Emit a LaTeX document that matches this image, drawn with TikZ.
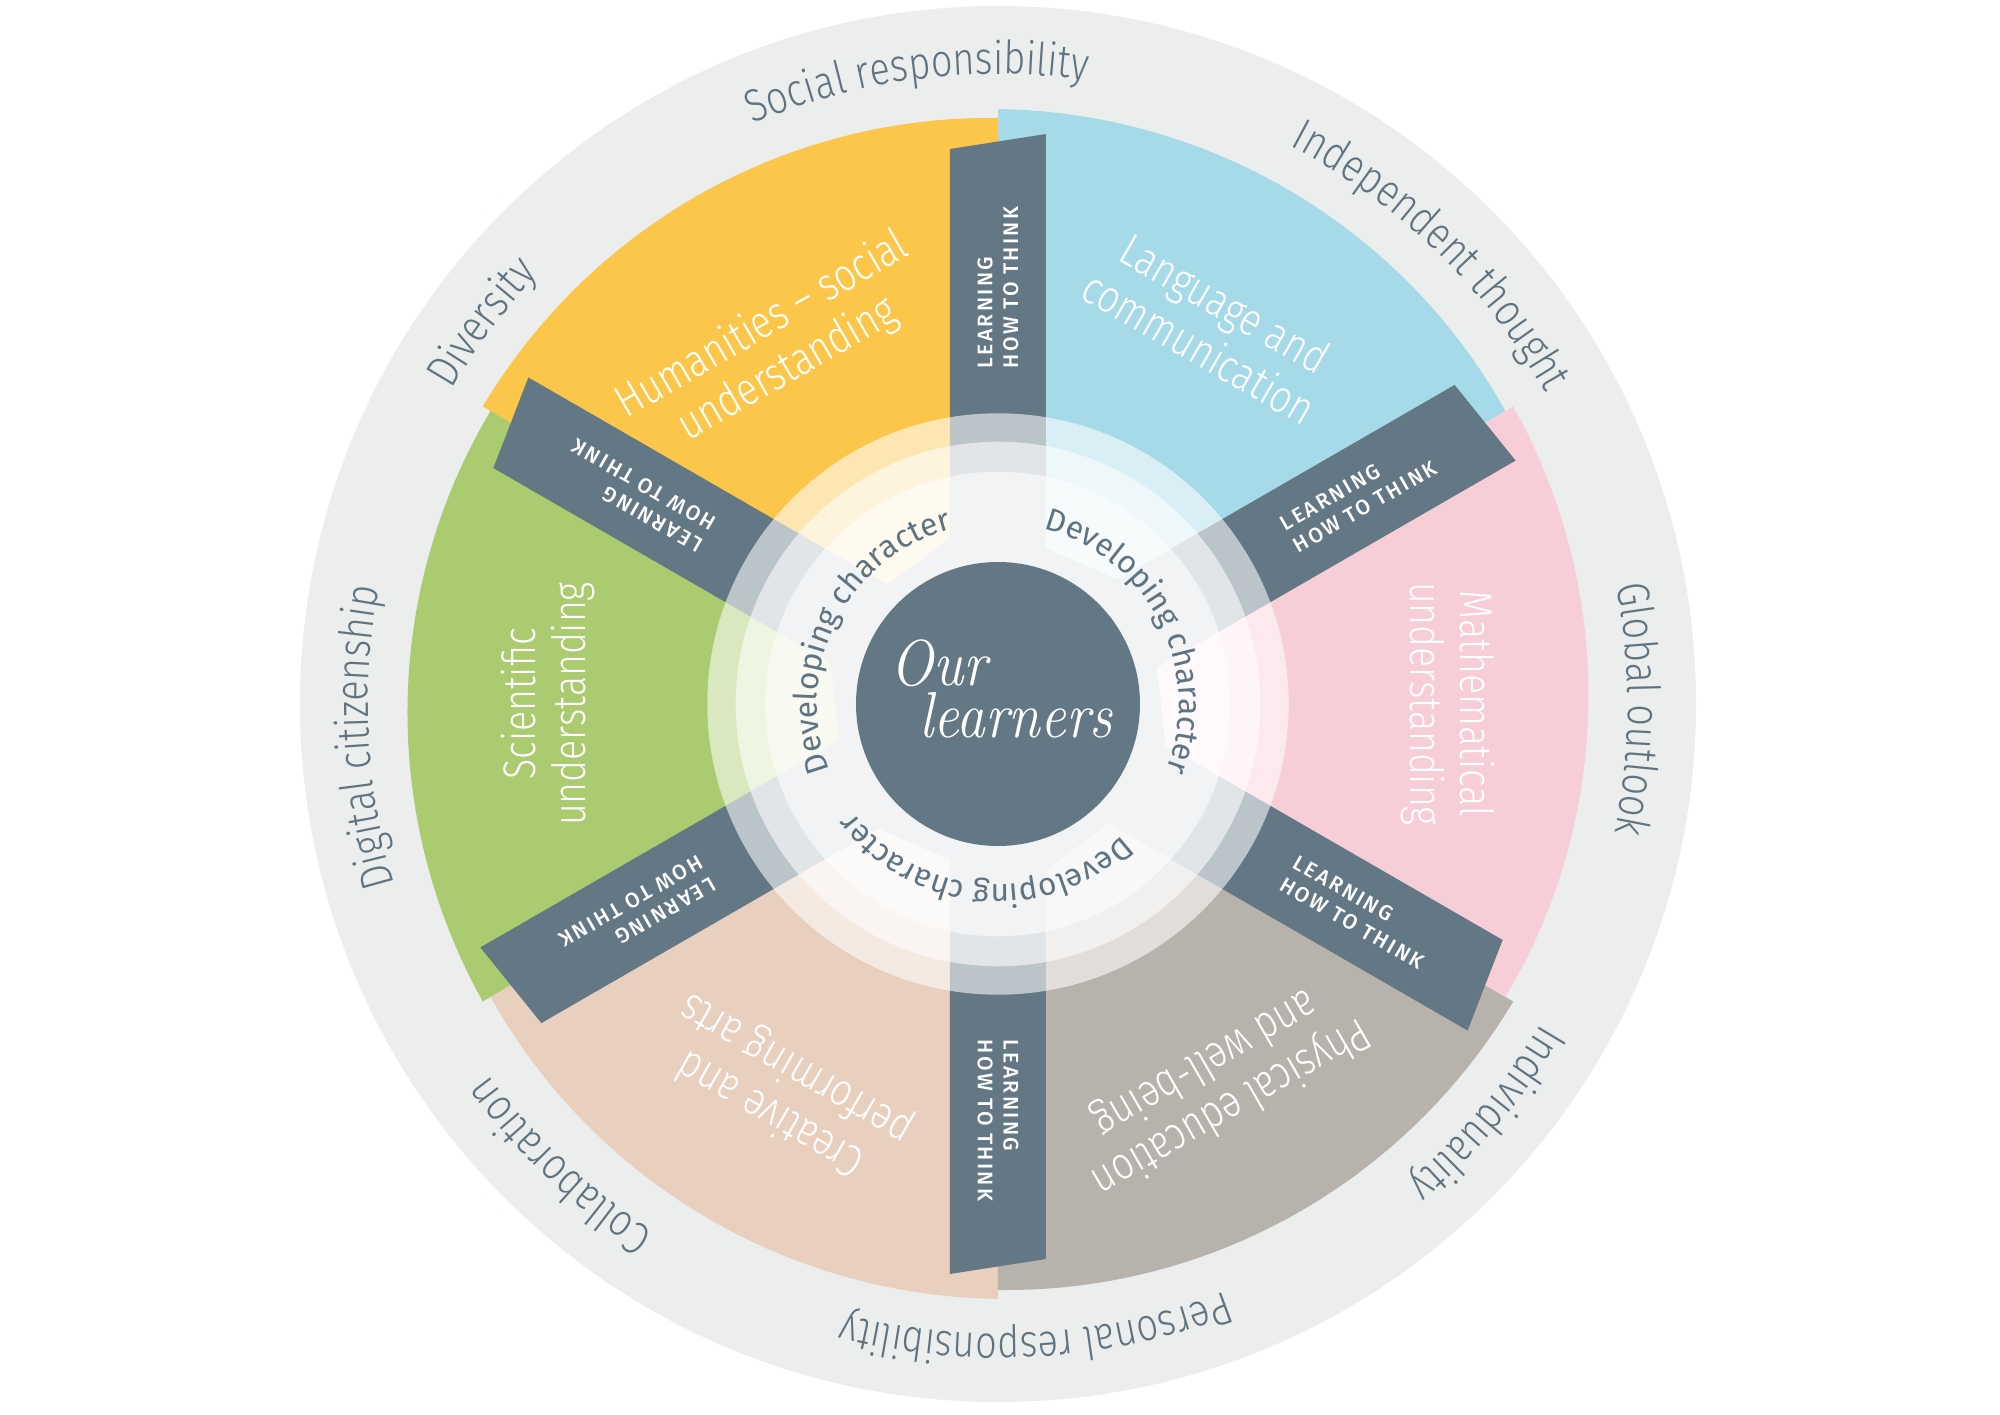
\documentclass[tikz,border=0pt]{standalone}
\usepackage{fontspec}
\usetikzlibrary{decorations.text}
\newfontfamily\outerfont{Fira Sans Light}[FakeStretch=0.83]
\newfontfamily\secfont{Fira Sans Light}[FakeStretch=0.82]
\newfontfamily\devfont{Fira Sans}
\newfontfamily\bandfont{Fira Sans Medium}[LetterSpace=11]
\definecolor{slate}{HTML}{637884}
\definecolor{ringgray}{HTML}{ECEDED}
\definecolor{labelc}{HTML}{5F7480}
\definecolor{secblue}{HTML}{A7DAE8}
\definecolor{secyellow}{HTML}{FCC64B}
\definecolor{secgreen}{HTML}{AACB6F}
\definecolor{secpeach}{HTML}{E8CFBE}
\definecolor{sectaupe}{HTML}{B8B2AC}
\definecolor{secpink}{HTML}{F7CDD8}
\tikzset{
  seclabel/.style={font=\secfont\fontsize{13}{14.5}\selectfont, text=white, align=center, inner sep=0pt},
  bandlabel/.style={font=\bandfont\fontsize{6}{7.3}\selectfont, text=white, align=left, anchor=west, inner sep=0pt},
  whitering/.style={fill=white, fill opacity=0.57},
}
\newcommand\outerlabel[2]{%
  \path[decorate, decoration={text along path, text align=center,
     text={|\outerfont\fontsize{13}{15}\selectfont\color{labelc}|#2}}]
     ({#1+40}:6.30) arc[start angle={#1+40}, end angle={#1-40}, radius=6.30];}
\newcommand\devlabel[1]{%
  \path[decorate, decoration={text along path, text align=center,
     text={|\devfont\fontsize{9}{11}\selectfont\color{labelc}|Developing character}}]
     ({#1+75}:1.81) arc[start angle={#1+75}, end angle={#1-75}, radius=1.81];}
\begin{document}
\begin{tikzpicture}
\useasboundingbox (-9.98,-7.10) rectangle (10.02,7.04);
\fill[white] (-9.98,-7.10) rectangle (10.02,7.04);
% outer ring
\fill[ringgray] (0,0) circle (6.98);
% hub
\fill[slate] (0,0) circle (2.2);
% sectors
\foreach \a/\c in {30/secblue, 90/secyellow, 150/secgreen, 210/secpeach, 270/sectaupe, 330/secpink}{
  \fill[\c, rotate=\a] (0:2.017) -- plot[domain=0:60, samples=40, variable=\t] ({\t}:{5.86+0.0015*\t}) -- (60:1.766) -- cycle;
}
% bands
\foreach \a in {30,90,150,210,270,330}{
  \fill[slate, rotate=\a] (0,-0.48) -- (5.70,-0.48) -- (5.55,0.48) -- (0,0.48) -- cycle;
}
% translucent rings
\foreach \r in {2.907,2.623,2.323}{
  \fill[whitering] (0,0) circle (\r);
}
% centre
\fill[slate] (0,0) circle (1.42);
\node[font=\fontsize{18.5}{20}\selectfont\itshape, text=white, anchor=base, inner sep=0pt] (our) at (-0.59,0.19) {\scalebox{0.88}[1]{Our}};
\node[font=\fontsize{18.5}{20}\selectfont\itshape, text=white, anchor=base, inner sep=0pt] (learners) at (0.18,-0.33) {\scalebox{0.88}[1]{learners}};
% band labels
\foreach \a in {30,90,150,210,270,330}{
  \node[bandlabel, rotate=\a] (band\a) at (\a:3.35) {LEARNING\\HOW TO THINK};
}
% sector labels
\node[seclabel, rotate=30] (hum) at (122:4.20) {Humanities – social\\understanding};
\node[seclabel, rotate=-30] (lang) at (60.5:4.35) {Language and\\communication};
\node[seclabel, rotate=-90] (math) at (0:4.5) {Mathematical\\understanding};
\node[seclabel, rotate=-150] (phys) at (-60:4.39) {Physical education\\and well-being};
\node[seclabel, rotate=150] (crea) at (-119:4.42) {Creative and\\performing arts};
\node[seclabel, rotate=90] (sci) at (180:4.5) {Scientific\\understanding};
% developing character
\devlabel{153}
\devlabel{27}
\devlabel{-95}
% outer labels
\outerlabel{97.4}{Social responsibility}
\outerlabel{46}{Independent thought}
\outerlabel{-0.5}{Global outlook}
\outerlabel{-40}{Individuality}
\outerlabel{-86.5}{Personal responsibility}
\outerlabel{-133.5}{Collaboration}
\outerlabel{183}{Digital citizenship}
\outerlabel{143.5}{Diversity}
\end{tikzpicture}
\end{document}
